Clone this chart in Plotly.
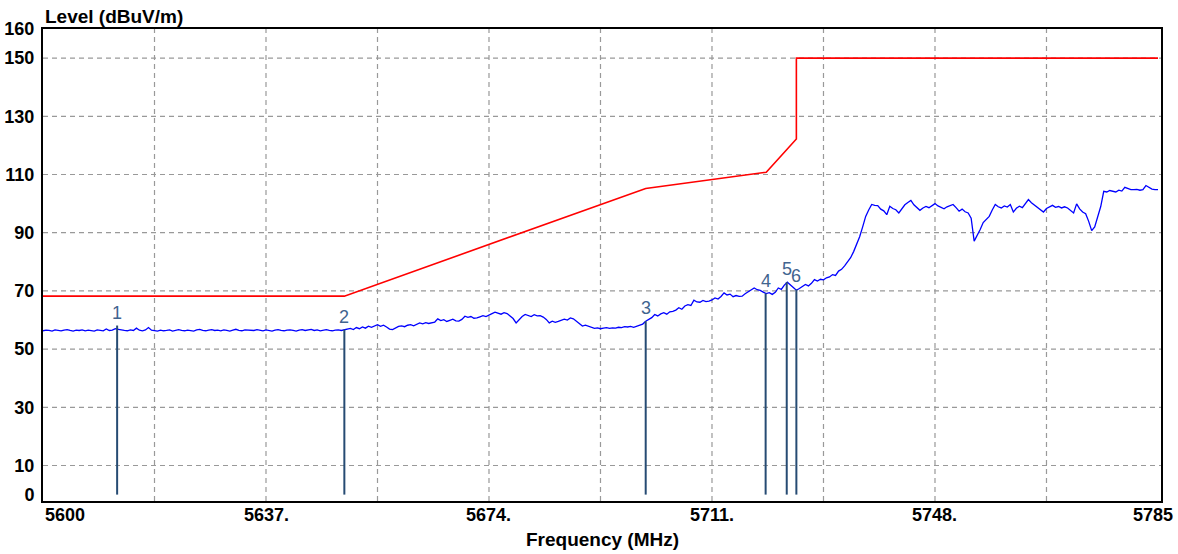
import numpy as np
import plotly.graph_objects as go

# ---------------- data ----------------
f_start, f_stop = 5600.0, 5785.0
level = [
    # 5600 - 5649.5
    56.3, 56.5, 56.4, 56.2, 56.6, 56.4, 56.3, 56.5, 56.7, 56.4,
    56.2, 56.5, 56.4, 56.6, 56.3, 56.5, 56.4, 56.2, 56.6, 56.5,
    56.3, 56.9, 56.4, 56.5, 57.0, 56.8, 56.5, 56.4, 56.3, 56.6,
    56.4, 57.2, 56.5, 56.3, 56.6, 57.4, 56.5, 56.4, 56.2, 56.5,
    56.3, 56.4, 56.6, 56.2, 56.5, 56.7, 56.4, 56.3, 56.5, 56.4,
    56.2, 56.6, 56.8, 56.4, 56.3, 56.5, 56.7, 56.4, 56.5, 56.3,
    56.6, 56.4, 56.2, 56.5, 56.8, 56.4, 56.3, 56.6, 56.5, 56.3,
    56.4, 56.7, 56.5, 56.3, 56.6, 56.4, 56.2, 56.5, 56.7, 56.4,
    56.3, 56.5, 56.6, 56.4, 56.2, 56.5, 56.7, 56.4, 56.6, 56.8,
    56.4, 56.6, 56.3, 56.5, 56.7, 56.4, 56.3, 56.5, 56.6, 56.4,
    # 5650
    56.7,
    # 5650.5 - 5700
    56.8, 57.1, 56.7, 57.4, 57.0, 57.6, 57.2, 57.9, 57.5, 58.1,
    58.4, 57.8, 58.2, 57.6, 56.9, 56.7, 57.3, 57.8, 58.0, 57.7,
    58.2, 58.4, 58.0, 58.6, 59.0, 58.7, 59.1, 58.8, 59.0, 59.3,
    60.4, 59.8, 60.1, 59.5, 59.9, 60.3, 59.7, 59.6, 60.2, 61.3,
    60.9, 61.2, 60.6, 60.7, 61.1, 61.5, 61.2, 61.8, 62.2, 62.7,
    62.3, 62.0, 62.5, 62.2, 61.4, 60.5, 59.0, 60.3, 61.2, 61.9,
    61.6, 61.2, 61.8, 61.4, 61.5, 61.0, 60.2, 59.0, 59.6, 59.2,
    59.5, 59.9, 60.3, 60.0, 60.7, 60.4, 59.6, 58.8, 57.9, 58.2,
    57.8, 57.5, 57.1, 57.3, 57.0, 57.2, 57.4, 57.1, 57.3, 57.2,
    57.5, 57.4, 57.7, 57.6, 57.8, 57.5, 57.9, 58.2, 58.6, 59.6,
    # 5700.5 - 5735
    60.2, 60.8, 61.9, 61.4, 62.1, 62.5, 62.0, 62.8, 63.0, 63.4,
    64.2, 63.7, 64.8, 65.3, 65.0, 66.8, 66.2, 66.1, 66.7, 66.3,
    66.5, 66.9, 67.6, 67.2, 68.1, 69.3, 68.6, 68.9, 68.0, 68.4,
    68.1, 68.2, 69.0, 69.6, 70.3, 71.0, 70.4, 70.2, 69.6, 69.1,
    69.4, 68.8, 69.5, 71.0, 70.5, 72.0, 73.0, 72.1, 71.2, 70.2,
    70.8, 71.5, 72.2, 71.7, 72.6, 73.9, 73.4, 74.0, 73.8, 74.5,
    74.8, 75.6, 75.3, 76.8, 77.4, 78.6, 80.0, 81.4, 83.5, 85.9,
    # 5735.5 - 5785
    88.6, 92.0, 95.6, 97.8, 99.7, 99.4, 99.3, 98.1, 97.5, 96.2,
    99.1, 98.3, 97.9, 96.8, 98.4, 99.6, 100.4, 101.1, 99.6, 98.8,
    97.7, 98.5, 99.0, 98.6, 99.4, 100.0, 99.2, 98.7, 98.2, 98.9,
    99.2, 99.7, 98.6, 97.4, 98.1, 97.2, 96.8, 95.0, 87.1, 89.0,
    91.1, 93.5, 94.6, 95.6, 97.8, 99.7, 98.9, 98.5, 99.2, 98.8,
    99.7, 97.1, 98.4, 99.1, 98.6, 100.2, 101.4, 100.3, 99.5, 98.5,
    97.8, 97.1, 98.3, 98.9, 99.4, 98.7, 99.0, 98.5, 98.9, 98.5,
    97.6, 96.8, 99.9, 98.2, 97.1, 96.5, 93.9, 90.7, 92.0, 95.1,
    99.0, 104.2, 104.0, 104.5, 104.2, 104.0, 104.6, 104.3, 105.6, 105.1,
    104.8, 104.8, 104.9, 104.6, 104.8, 106.2, 105.5, 105.0, 104.8, 104.8,
]
freq = np.linspace(f_start, f_stop, len(level))

limit_freq = [5600, 5650, 5700, 5720, 5725, 5725, 5785]
limit_level = [68.2, 68.2, 105.2, 110.8, 122.2, 150.0, 150.0]

marker_ids = ["1", "2", "3", "4", "5", "6"]
marker_freq = [5612.3, 5650.0, 5700.0, 5719.9, 5723.4, 5725.0]
marker_level = [58.1, 56.7, 59.6, 69.1, 73.0, 70.5]

x_tick_vals = [5600, 5637, 5674, 5711, 5748, 5785]
x_tick_text = ["5600", "5637.", "5674.", "5711.", "5748.", "5785"]
x_grid_vals = [5618.5, 5637, 5655.5, 5674, 5692.5, 5711, 5729.5, 5748, 5766.5]
y_tick_vals = [0, 10, 30, 50, 70, 90, 110, 130, 150, 160]
y_grid_vals = [10, 30, 50, 70, 90, 110, 130, 150]

y_title = "Level (dBuV/m)"
x_title = "Frequency (MHz)"

# ---------------- figure ----------------
FONT = "Liberation Sans, Arial, sans-serif"
fig = go.Figure()

shapes = []
for v in y_grid_vals:
    shapes.append(dict(type="line", xref="paper", yref="y", x0=0, x1=1, y0=v, y1=v,
                       line=dict(color="#999999", width=1.2, dash="5px,4px"), layer="below"))
for v in x_grid_vals:
    shapes.append(dict(type="line", xref="x", yref="paper", x0=v, x1=v, y0=0, y1=1,
                       line=dict(color="#999999", width=1.2, dash="5px,4px"), layer="below"))

fig.add_trace(go.Scatter(x=limit_freq, y=limit_level, mode="lines",
                         line=dict(color="#ff0000", width=1.6), hoverinfo="skip"))
fig.add_trace(go.Scatter(x=freq, y=level, mode="lines",
                         line=dict(color="#0000ff", width=1.3), hoverinfo="skip"))

mx, my = [], []
for f, l in zip(marker_freq, marker_level):
    mx += [f, f, None]
    my += [0, l, None]
fig.add_trace(go.Scatter(x=mx, y=my, mode="lines",
                         line=dict(color="#264b73", width=2), hoverinfo="skip"))

annotations = []
for t, f, l in zip(marker_ids, marker_freq, marker_level):
    annotations.append(dict(x=f, y=l, xref="x", yref="y", text=t, showarrow=False,
                            yanchor="bottom", xanchor="center", yshift=1,
                            font=dict(family=FONT, size=18, color="#41648f")))
n = len(x_tick_vals)
for i, (v, t) in enumerate(zip(x_tick_vals, x_tick_text)):
    if i == 0:
        xa, xs = "left", 0
    elif i == n - 1:
        xa, xs = "center", -5
    else:
        xa, xs = "center", 0
    annotations.append(dict(x=v, y=0, xref="x", yref="paper", text=t, showarrow=False,
                            xanchor=xa, yanchor="top", xshift=xs, yshift=-2,
                            font=dict(family=FONT, size=18, color="#000000", weight="bold")))
annotations.append(dict(x=0, y=1, xref="paper", yref="paper", text=y_title, showarrow=False,
                        xanchor="left", yanchor="bottom", yshift=0,
                        font=dict(family=FONT, size=19, color="#000000", weight="bold")))
annotations.append(dict(x=0.5, y=0, xref="paper", yref="paper", text=x_title, showarrow=False,
                        xanchor="center", yanchor="top", yshift=-26,
                        font=dict(family=FONT, size=19, color="#000000", weight="bold")))

fig.update_layout(
    width=1178, height=554,
    margin=dict(l=43, r=17, t=29, b=53, autoexpand=False),
    paper_bgcolor="white", plot_bgcolor="white",
    showlegend=False,
    shapes=shapes, annotations=annotations,
    xaxis=dict(range=[5600, 5785.5], showgrid=False, zeroline=False, automargin=False,
               showticklabels=False, ticks="",
               showline=True, mirror=True, linecolor="#000000", linewidth=2),
    yaxis=dict(range=[-2.2, 160], tickmode="array", tickvals=y_tick_vals, automargin=False,
               showgrid=False, zeroline=False, ticks="", ticklabelstandoff=3,
               tickfont=dict(family=FONT, size=18, color="#000000", weight="bold"),
               showline=True, mirror=True, linecolor="#000000", linewidth=2),
)

fig.write_html(
    "out.html",
    config={"displayModeBar": False},
    post_script="document.body.style.margin='0';document.body.style.overflow='hidden';",
)
